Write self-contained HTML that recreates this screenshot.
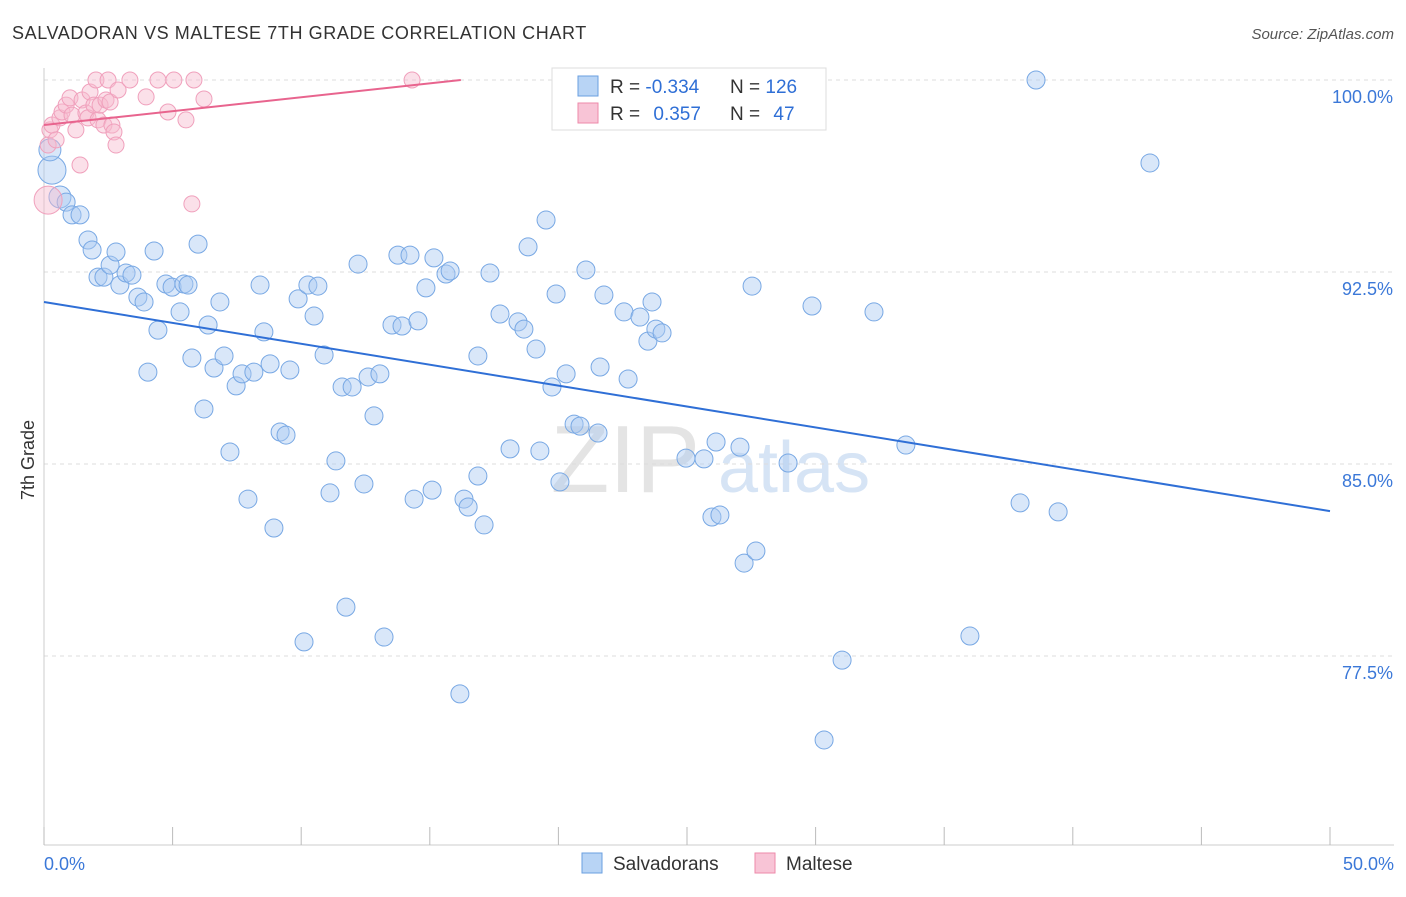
<!DOCTYPE html>
<html><head><meta charset="utf-8"><style>
body{margin:0;background:#fff;font-family:"Liberation Sans",sans-serif;}
svg text{font-family:"Liberation Sans",sans-serif;}
</style></head><body>
<svg id="chart" width="1406" height="892" viewBox="0 0 1406 892">
<text x="12" y="39" font-size="18" fill="#333" letter-spacing="0.6">SALVADORAN VS MALTESE 7TH GRADE CORRELATION CHART</text>
<text x="1394" y="39" font-size="15" fill="#555" font-style="italic" text-anchor="end">Source: ZipAtlas.com</text>
<text x="700" y="492" font-size="96" fill="#e4e4e4" text-anchor="end" font-family="Liberation Serif">ZIP</text>
<text x="718" y="492" font-size="72" fill="#d6e4f5">atlas</text>
<g id="grid"></g>
<g id="axes"></g>
<g id="pts"></g>
<g id="trend"></g>
<text x="34" y="460" font-size="18" fill="#333" transform="rotate(-90 34 460)" text-anchor="middle">7th Grade</text>
<g>
<rect x="552" y="68" width="274" height="62" fill="#fff" stroke="#ddd"/>
<rect x="578" y="76" width="20" height="20" fill="#b8d4f5" stroke="#6a9fe0"/>
<rect x="578" y="103" width="20" height="20" fill="#f8c4d6" stroke="#ee8aaa"/>
<text x="610" y="93" font-size="19" fill="#333">R = <tspan fill="#2f6fd6">-0.334</tspan></text>
<text x="730" y="93" font-size="19" fill="#333">N = <tspan fill="#2f6fd6">126</tspan></text>
<text x="610" y="120" font-size="19" fill="#333">R = <tspan fill="#2f6fd6" dx="8">0.357</tspan></text>
<text x="730" y="120" font-size="19" fill="#333">N = <tspan fill="#2f6fd6" dx="8">47</tspan></text>
</g>
<g>
<rect x="582" y="853" width="20" height="20" fill="#b8d4f5" stroke="#6a9fe0"/>
<text x="613" y="870" font-size="19" fill="#333">Salvadorans</text>
<rect x="755" y="853" width="20" height="20" fill="#f8c4d6" stroke="#ee8aaa"/>
<text x="786" y="870" font-size="19" fill="#333">Maltese</text>
</g>
</svg>
<script>
const xTicks=[0,5,10,15,20,25,30,35,40,45,50];
const yTicks=[100,92.5,85,77.5];
const yTickLabels=["100.0%","92.5%","85.0%","77.5%"];
const xEndLabels=["0.0%","50.0%"];
const blueX=[0.31,0.23,0.62,0.86,1.09,1.40,1.71,1.87,2.10,2.33,2.57,2.80,2.95,3.19,3.42,3.65,3.89,4.28,4.43,4.04,4.74,4.98,5.29,5.44,5.60,5.75,5.99,6.22,6.38,6.61,6.84,7.00,7.23,7.47,7.70,7.93,8.16,8.40,8.55,8.79,8.94,9.18,9.41,9.56,9.88,10.11,10.26,10.50,10.65,10.89,11.12,11.35,11.59,11.74,11.98,12.21,12.44,12.60,12.83,13.06,13.22,13.53,13.76,13.92,14.23,14.39,14.54,14.85,15.09,15.16,15.63,15.79,16.17,16.33,16.49,16.87,16.87,17.11,17.34,17.73,18.12,18.43,18.66,18.82,19.13,19.28,19.52,19.75,19.91,20.06,20.30,20.61,20.84,21.07,21.54,21.62,21.77,22.55,22.71,23.17,23.48,23.64,23.79,24.03,24.96,25.66,25.97,26.13,26.28,27.06,27.22,27.68,28.93,27.53,29.86,30.33,31.03,32.27,33.51,36.00,37.95,39.43,38.57,43.00,24.8];
const blueY=[96.48,97.27,95.43,95.23,94.73,94.73,93.75,93.36,92.30,92.30,92.77,93.28,91.99,92.46,92.38,91.52,91.33,93.32,90.23,88.59,92.03,91.91,90.94,92.03,91.99,89.14,93.59,87.15,90.43,88.75,91.33,89.22,85.47,88.05,88.52,83.63,88.59,91.99,90.16,88.91,82.50,86.25,86.13,88.67,91.45,78.05,91.99,90.78,91.95,89.26,83.87,85.12,88.01,79.41,88.01,92.81,84.22,88.40,86.88,88.52,78.24,90.43,93.16,90.39,93.16,83.63,90.59,91.88,83.98,93.05,92.42,92.54,76.02,83.63,83.32,89.22,84.53,82.62,92.46,90.86,85.59,90.55,90.27,93.48,89.49,85.51,94.53,88.01,91.64,84.30,88.52,86.56,86.48,92.58,86.21,88.79,91.60,90.94,88.32,90.74,89.80,91.33,90.27,90.12,85.23,85.20,82.93,85.86,83.01,85.66,81.13,81.60,85.04,91.95,91.17,74.22,77.34,90.94,85.74,78.28,83.48,83.13,100.0,96.76,100.0];
const pinkX=[0.16,0.16,0.23,0.31,0.47,0.62,0.70,0.86,1.01,1.09,1.24,1.40,1.48,1.63,1.71,1.79,1.94,2.02,2.10,2.18,2.33,2.41,2.49,2.57,2.64,2.72,2.80,2.88,3.34,3.97,4.43,4.82,5.05,5.52,5.75,5.83,6.22,14.31];
const pinkY=[95.31,97.46,98.05,98.24,97.66,98.52,98.75,99.02,99.30,98.63,98.05,96.68,99.22,98.71,98.52,99.53,99.02,100.0,98.44,99.02,98.24,99.22,100.0,99.14,98.24,97.97,97.46,99.61,100.0,99.34,100.0,98.75,100.0,98.44,95.16,100.0,99.26,100.0];
const blueTrend=[91.33,83.16];
const pinkTrend=[98.24,0.1086];

const X0=44,X1=1330;
const xs=v=>X0+(v/50)*(X1-X0);
const ys=v=>80+(100-v)*192/7.5;
const NS="http://www.w3.org/2000/svg";
function mk(tag,attrs,parent){const e=document.createElementNS(NS,tag);for(const k in attrs)e.setAttribute(k,attrs[k]);parent.appendChild(e);return e;}
const grid=document.getElementById('grid'),axes=document.getElementById('axes'),pts=document.getElementById('pts'),trend=document.getElementById('trend');
yTicks.forEach((t,i)=>{
 const l=mk('line',{x1:X0,x2:1394,y1:ys(t),y2:ys(t),stroke:'#ddd','stroke-dasharray':'4,4'},grid);
 
 
 const tx=mk('text',{x:1393,y:ys(t)+23,'font-size':18,fill:'#3b78d8','text-anchor':'end'},axes);
 tx.textContent=yTickLabels[i];
 
 
});
const ax=mk('line',{x1:X0,x2:1394,y1:845,y2:845,stroke:'#ccc'},axes);


const ay=mk('line',{x1:X0,x2:X0,y1:68,y2:845,stroke:'#ccc'},axes);


xTicks.forEach(t=>{
 const l=mk('line',{x1:xs(t),x2:xs(t),y1:827,y2:845,stroke:'#bbb'},axes);
 
 
});
const xl0=mk('text',{x:44,y:870,'font-size':18,fill:'#3b78d8'},axes);xl0.textContent=xEndLabels[0];


const xl1=mk('text',{x:1394,y:870,'font-size':18,fill:'#3b78d8','text-anchor':'end'},axes);xl1.textContent=xEndLabels[1];


blueX.forEach((x,i)=>{
 const r=i<3?(i===0?14:11):9;
 const c=mk('circle',{cx:xs(x),cy:ys(blueY[i]),r:r,fill:'rgba(170,202,242,0.45)',stroke:'#78a8e4','stroke-width':1},pts);
 
 
});
pinkX.forEach((x,i)=>{
 const r=i===0?14:8;
 const c=mk('circle',{cx:xs(x),cy:ys(pinkY[i]),r:r,fill:'rgba(246,186,206,0.45)',stroke:'#f0a0bc','stroke-width':1},pts);
 
 
});
const bl=mk('line',{x1:xs(0),y1:ys(blueTrend[0]),x2:xs(50),y2:ys(blueTrend[1]),stroke:'#2f6fd6','stroke-width':2},trend);


const pEnd=(100-pinkTrend[0])/pinkTrend[1];
const pl=mk('line',{x1:xs(0),y1:ys(pinkTrend[0]),x2:xs(pEnd),y2:ys(100),stroke:'#e8648e','stroke-width':2},trend);


</script>
</body></html>
